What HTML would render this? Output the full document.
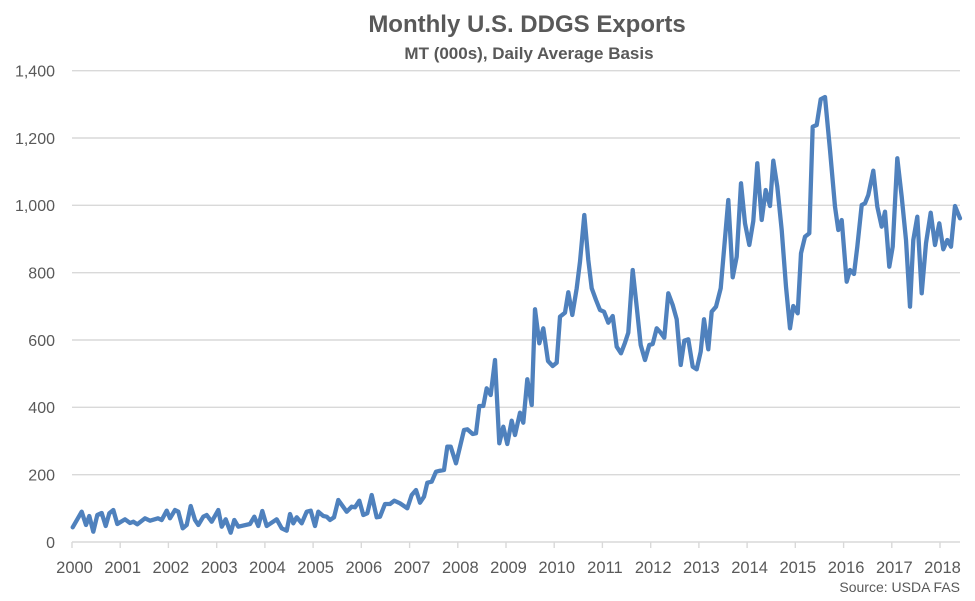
<!DOCTYPE html>
<html>
<head>
<meta charset="utf-8">
<style>
  html,body{margin:0;padding:0;background:#fff;}
  body{width:975px;height:601px;overflow:hidden;}
  svg{display:block;}
  text{font-family:"Liberation Sans",Arial,sans-serif;fill:#595959;}
</style>
</head>
<body>
<svg width="975" height="601" viewBox="0 0 975 601" xmlns="http://www.w3.org/2000/svg">
  <rect x="0" y="0" width="975" height="601" fill="#fff"/>
  <!-- Title -->
  <text x="527" y="32" text-anchor="middle" font-size="24" font-weight="bold">Monthly U.S. DDGS Exports</text>
  <text x="529" y="59" text-anchor="middle" font-size="17" font-weight="bold">MT (000s), Daily Average Basis</text>

  <!-- Gridlines -->
  <g stroke="#D9D9D9" stroke-width="1.4">
    <line x1="72" y1="70.7" x2="960" y2="70.7"/>
    <line x1="72" y1="138" x2="960" y2="138"/>
    <line x1="72" y1="205.3" x2="960" y2="205.3"/>
    <line x1="72" y1="272.7" x2="960" y2="272.7"/>
    <line x1="72" y1="340" x2="960" y2="340"/>
    <line x1="72" y1="407.3" x2="960" y2="407.3"/>
    <line x1="72" y1="474.7" x2="960" y2="474.7"/>
    <line x1="72" y1="542" x2="960" y2="542"/>
  </g>
  <!-- Ticks -->
  <g stroke="#D9D9D9" stroke-width="1.4">
    <line x1="72" y1="542" x2="72" y2="548"/>
    <line x1="120.2" y1="542" x2="120.2" y2="548"/>
    <line x1="168.4" y1="542" x2="168.4" y2="548"/>
    <line x1="216.7" y1="542" x2="216.7" y2="548"/>
    <line x1="264.9" y1="542" x2="264.9" y2="548"/>
    <line x1="313.1" y1="542" x2="313.1" y2="548"/>
    <line x1="361.3" y1="542" x2="361.3" y2="548"/>
    <line x1="409.6" y1="542" x2="409.6" y2="548"/>
    <line x1="457.8" y1="542" x2="457.8" y2="548"/>
    <line x1="506" y1="542" x2="506" y2="548"/>
    <line x1="554.2" y1="542" x2="554.2" y2="548"/>
    <line x1="602.4" y1="542" x2="602.4" y2="548"/>
    <line x1="650.7" y1="542" x2="650.7" y2="548"/>
    <line x1="698.9" y1="542" x2="698.9" y2="548"/>
    <line x1="747.1" y1="542" x2="747.1" y2="548"/>
    <line x1="795.3" y1="542" x2="795.3" y2="548"/>
    <line x1="843.6" y1="542" x2="843.6" y2="548"/>
    <line x1="891.8" y1="542" x2="891.8" y2="548"/>
    <line x1="940" y1="542" x2="940" y2="548"/>
  </g>

  <!-- Y labels -->
  <g font-size="16" text-anchor="end">
    <text x="55" y="76.5">1,400</text>
    <text x="55" y="143.8">1,200</text>
    <text x="55" y="211.1">1,000</text>
    <text x="55" y="278.5">800</text>
    <text x="55" y="345.8">600</text>
    <text x="55" y="413.1">400</text>
    <text x="55" y="480.5">200</text>
    <text x="55" y="547.8">0</text>
  </g>

  <!-- X labels -->
  <g font-size="16.5" text-anchor="middle">
    <text x="74.5" y="573">2000</text>
    <text x="122.7" y="573">2001</text>
    <text x="170.9" y="573">2002</text>
    <text x="219.2" y="573">2003</text>
    <text x="267.4" y="573">2004</text>
    <text x="315.6" y="573">2005</text>
    <text x="363.8" y="573">2006</text>
    <text x="412.1" y="573">2007</text>
    <text x="460.3" y="573">2008</text>
    <text x="508.5" y="573">2009</text>
    <text x="556.7" y="573">2010</text>
    <text x="604.9" y="573">2011</text>
    <text x="653.2" y="573">2012</text>
    <text x="701.4" y="573">2013</text>
    <text x="749.6" y="573">2014</text>
    <text x="797.8" y="573">2015</text>
    <text x="846.1" y="573">2016</text>
    <text x="894.3" y="573">2017</text>
    <text x="942.5" y="573">2018</text>
  </g>

  <!-- Source -->
  <text x="960" y="592" text-anchor="end" font-size="14">Source: USDA FAS</text>

  <!-- Series -->
  <polyline fill="none" stroke="#4F81BD" stroke-width="4.3" stroke-linejoin="round" stroke-linecap="round" points="
72.7,527.3 81.7,511.7 86,525 89.3,516 93.3,531.7 97.3,515 101.7,513 105.7,526 109.3,513.3 113.3,510 117.3,524
125,519.3 130,523 133.3,521.7 137.3,524.3 145,518.3 150,520.7 158,518.3 161.7,520 166.7,510.7 170,518.3
175,510 178.3,511.7 182.7,528.3 186.7,525 190.7,506 195,520 198.3,525 203.3,516.7 206.7,515 211.7,521.7
218.3,510 221.7,526.7 225.7,519.3 230.7,532.7 234.3,520 238.3,526.7 250,524 254.3,516.7 258.3,526 262.3,511
266.7,526 276.7,519.3 281.7,528.3 286.7,530.7 290,514 293.3,523.3 296.7,517.3 301.7,523.3 306.7,511.7
310.7,510.7 315,526 318.3,511.7 323.3,516 326.7,516.7 330,520 334,517.3 338.3,500
346.7,511.7 351.7,506.7 355,507.3 359.3,500.7 363.3,515 367.3,513.3 371.7,495 376.7,517.3 380,516.7
385,504 390,504 394.3,500.7 400,503.3 407.3,508.3 411.7,495 416,490 420,502.7 424,496.7 427.3,482.7
431.7,481.7 436,471.7 440,470.7 444,470 447.3,446.7 450.7,446.7 456,463.3 460,446.7 464,430 467.3,429.3
472.7,434 476,433.3 479.3,406 483.3,406 486.7,388.3 490.7,395 495,360 499.3,443.3 503.3,426.7 507.3,444
511.7,420.7 515,435 520,412.7 523.3,422.7 527.3,379.3 531.7,405 535,309.3 539.3,343.3 543.3,328.3
548,361 552.7,366 556.7,362.7 560,316.7 565,312.7 568.3,292.3 572.3,315 576.7,288.3 580,261.7 584.3,215
588.3,260 591.7,288.3 596,300 600,310 604,311.7 608.3,322.7 612.7,316 616.7,346.7 621,353.3 625,342.7
628.3,332.7 632.7,270 636.7,306.7 640.7,345 645,360 649.3,345 652.7,344 656.7,328.3 660.7,332.7 664.3,337.7
668.3,293.3 672.7,305 676.7,319.3 680.7,365 684.3,340.7 688.3,339.3 692.7,366.7 696.7,369.3 700.7,351.7
704,319.3 708.3,349.3 711.7,311.7 716,306.7 720.7,288.3 728.3,200 732.7,277.3 736.7,256.7 741,183.3
745,223.3 749.3,245 753.3,221 757.3,163.3 761.7,220 765.7,190 770,206 773.3,160.7 777.3,186.7 781.7,230
786,286.7 790,328.3 793.3,306 797.7,313.3 801,253.3 805,236.7 809.3,233.3 812.7,126.7 816.7,125 820.7,99.3
825,97 830,150 835,206.7 838.3,230 841.7,220 846.7,281.7 850,270 854,274 857.3,246.7 861.7,205 865,203.3
868.3,195 873.3,170.7 877.3,206.7 881.7,226.7 885,211.7 889.3,266.7 892.7,246.7 897.3,158.3 901.7,196.7
906,240 910,306.7 913.3,240 917.3,216.7 921.7,293.3 926,243.3 930.7,212.7 935,245 939.3,223.3 943.3,249.3
947.3,240 951,246.7 955,206 960,218.3"/>
</svg>
</body>
</html>
